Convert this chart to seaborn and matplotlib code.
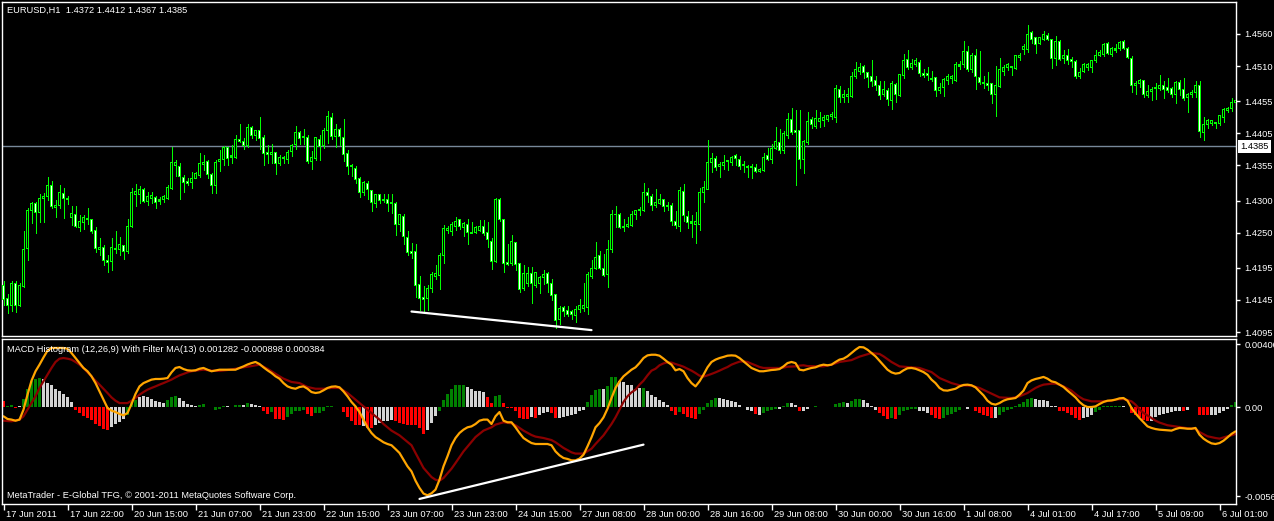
import numpy as np
import pandas as pd
import seaborn as sns
import matplotlib.pyplot as plt
import matplotlib.transforms as mtransforms

sns.set_style("dark", {"axes.facecolor": "black", "figure.facecolor": "black",
                       "axes.edgecolor": "white", "text.color": "white",
                       "xtick.color": "white", "ytick.color": "white"})
plt.rcParams["font.family"] = ["Liberation Sans", "DejaVu Sans"]

# -------------------------
# DATA (EURUSD H1, prices in pips: 14385 = 1.4385)
# -------------------------

opens = [
    14168, 14148, 14137, 14171, 14136, 14166, 14226, 14284, 14295, 14281,
    14303, 14306, 14324, 14289, 14292, 14311, 14303, 14274, 14279, 14258,
    14266, 14272, 14271, 14253, 14223, 14227, 14207, 14205, 14226, 14223,
    14230, 14220, 14260, 14309, 14309, 14317, 14299, 14303, 14305, 14299,
    14301, 14303, 14319, 14355, 14354, 14336, 14330, 14328, 14335, 14339,
    14356, 14361, 14340, 14323, 14361, 14364, 14383, 14368, 14368, 14396,
    14392, 14386, 14414, 14402, 14409, 14399, 14375, 14372, 14375, 14358,
    14365, 14364, 14376, 14387, 14407, 14398, 14398, 14361, 14366, 14396,
    14386, 14410, 14430, 14400, 14411, 14399, 14374, 14355, 14350, 14335,
    14313, 14327, 14316, 14296, 14310, 14302, 14301, 14297, 14296, 14263,
    14276, 14243, 14221, 14221, 14169, 14149, 14147, 14163, 14181, 14183,
    14215, 14254, 14252, 14259, 14270, 14258, 14263, 14250, 14250, 14254,
    14260, 14251, 14237, 14205, 14302, 14271, 14204, 14202, 14235, 14202,
    14163, 14171, 14187, 14168, 14171, 14180, 14187, 14171, 14153, 14114,
    14134, 14128, 14127, 14121, 14130, 14131, 14134, 14182, 14194, 14214,
    14194, 14184, 14223, 14279, 14279, 14258, 14260, 14261, 14278, 14284,
    14284, 14313, 14307, 14292, 14296, 14301, 14293, 14293, 14268, 14259,
    14315, 14276, 14267, 14262, 14263, 14313, 14318, 14360, 14366, 14353,
    14355, 14361, 14360, 14370, 14364, 14355, 14354, 14352, 14352, 14345,
    14347, 14370, 14364, 14382, 14391, 14378, 14402, 14427, 14410, 14409,
    14364, 14391, 14426, 14416, 14424, 14425, 14427, 14431, 14429, 14474,
    14461, 14462, 14463, 14494, 14502, 14510, 14500, 14493, 14487, 14479,
    14465, 14472, 14457, 14481, 14464, 14495, 14520, 14507, 14512, 14516,
    14499, 14498, 14491, 14492, 14472, 14477, 14488, 14490, 14488, 14510,
    14512, 14533, 14504, 14526, 14492, 14484, 14483, 14483, 14465, 14478,
    14502, 14507, 14510, 14506, 14523, 14536, 14536, 14562, 14554, 14545,
    14552, 14558, 14551, 14522, 14548, 14522, 14527, 14520, 14517, 14493,
    14501, 14508, 14508, 14518, 14527, 14528, 14545, 14528, 14535, 14537,
    14548, 14538, 14522, 14480, 14483, 14487, 14464, 14470, 14475, 14475,
    14479, 14477, 14475, 14466, 14485, 14473, 14461, 14465, 14468, 14480,
    14407, 14419, 14421, 14420, 14420, 14430, 14441, 14444, 14453]

highs = [
    14174, 14155, 14175, 14174, 14171, 14253, 14288, 14298, 14298, 14310,
    14312, 14337, 14331, 14301, 14324, 14319, 14307, 14292, 14292, 14278,
    14278, 14288, 14272, 14259, 14241, 14231, 14215, 14241, 14253, 14243,
    14231, 14272, 14320, 14326, 14323, 14319, 14314, 14314, 14307, 14306,
    14309, 14324, 14383, 14363, 14359, 14340, 14335, 14344, 14345, 14374,
    14371, 14363, 14343, 14363, 14379, 14386, 14384, 14387, 14402, 14420,
    14397, 14419, 14416, 14410, 14430, 14403, 14387, 14388, 14376, 14371,
    14369, 14379, 14389, 14416, 14409, 14411, 14403, 14377, 14399, 14402,
    14413, 14440, 14436, 14420, 14413, 14427, 14379, 14357, 14354, 14337,
    14331, 14331, 14317, 14310, 14311, 14310, 14310, 14311, 14298, 14279,
    14279, 14253, 14234, 14233, 14182, 14167, 14168, 14189, 14200, 14219,
    14262, 14260, 14267, 14274, 14272, 14267, 14271, 14266, 14260, 14270,
    14270, 14266, 14241, 14304, 14304, 14272, 14232, 14246, 14236, 14203,
    14200, 14197, 14196, 14189, 14183, 14192, 14189, 14177, 14154, 14136,
    14136, 14135, 14129, 14135, 14146, 14171, 14188, 14207, 14236, 14221,
    14216, 14238, 14286, 14292, 14280, 14272, 14274, 14284, 14286, 14290,
    14328, 14320, 14310, 14318, 14310, 14303, 14298, 14296, 14284, 14322,
    14326, 14284, 14278, 14283, 14319, 14331, 14395, 14374, 14369, 14361,
    14371, 14364, 14370, 14373, 14370, 14362, 14355, 14357, 14357, 14351,
    14375, 14382, 14388, 14415, 14411, 14409, 14436, 14444, 14441, 14441,
    14395, 14438, 14431, 14441, 14439, 14434, 14434, 14438, 14480, 14479,
    14473, 14475, 14501, 14516, 14514, 14512, 14501, 14519, 14494, 14486,
    14487, 14475, 14486, 14483, 14497, 14528, 14535, 14521, 14522, 14520,
    14505, 14509, 14502, 14493, 14483, 14492, 14498, 14496, 14516, 14518,
    14549, 14541, 14530, 14536, 14533, 14494, 14500, 14484, 14510, 14522,
    14512, 14514, 14510, 14527, 14531, 14544, 14574, 14564, 14556, 14556,
    14565, 14561, 14552, 14557, 14550, 14535, 14536, 14524, 14519, 14507,
    14515, 14515, 14519, 14535, 14535, 14546, 14547, 14540, 14544, 14549,
    14551, 14539, 14525, 14487, 14489, 14488, 14480, 14477, 14483, 14496,
    14487, 14491, 14477, 14486, 14488, 14491, 14468, 14472, 14486, 14486,
    14431, 14427, 14426, 14423, 14434, 14444, 14446, 14460, 14464]

lows = [
    14137, 14124, 14128, 14127, 14135, 14166, 14207, 14265, 14249, 14266,
    14267, 14301, 14288, 14275, 14288, 14273, 14295, 14262, 14259, 14253,
    14255, 14264, 14250, 14220, 14215, 14200, 14188, 14191, 14218, 14215,
    14209, 14218, 14259, 14291, 14297, 14298, 14293, 14296, 14288, 14295,
    14298, 14302, 14318, 14338, 14303, 14314, 14324, 14320, 14335, 14337,
    14348, 14335, 14312, 14312, 14347, 14356, 14356, 14358, 14366, 14392,
    14381, 14383, 14397, 14395, 14381, 14355, 14359, 14358, 14342, 14356,
    14359, 14358, 14369, 14381, 14389, 14389, 14359, 14350, 14363, 14363,
    14382, 14390, 14396, 14383, 14387, 14362, 14342, 14339, 14328, 14306,
    14309, 14303, 14284, 14290, 14297, 14298, 14284, 14281, 14247, 14252,
    14232, 14215, 14210, 14150, 14129, 14127, 14130, 14158, 14177, 14162,
    14202, 14249, 14246, 14254, 14255, 14245, 14232, 14249, 14249, 14253,
    14246, 14227, 14194, 14205, 14269, 14188, 14200, 14199, 14192, 14158,
    14161, 14167, 14140, 14165, 14156, 14170, 14158, 14145, 14101, 14108,
    14120, 14120, 14116, 14111, 14127, 14128, 14123, 14180, 14193, 14193,
    14182, 14166, 14220, 14259, 14257, 14252, 14259, 14260, 14271, 14278,
    14284, 14298, 14285, 14290, 14295, 14284, 14286, 14262, 14258, 14252,
    14269, 14258, 14244, 14234, 14254, 14298, 14318, 14345, 14348, 14337,
    14350, 14348, 14355, 14356, 14350, 14345, 14337, 14336, 14344, 14344,
    14347, 14363, 14358, 14381, 14375, 14375, 14397, 14404, 14324, 14351,
    14343, 14389, 14413, 14413, 14415, 14416, 14424, 14427, 14423, 14454,
    14454, 14454, 14461, 14492, 14498, 14492, 14478, 14479, 14472, 14459,
    14463, 14449, 14443, 14454, 14464, 14491, 14505, 14506, 14510, 14494,
    14493, 14488, 14487, 14463, 14468, 14463, 14482, 14483, 14486, 14506,
    14509, 14502, 14500, 14474, 14482, 14475, 14473, 14453, 14432, 14477,
    14496, 14504, 14496, 14505, 14520, 14529, 14532, 14546, 14530, 14544,
    14551, 14551, 14507, 14511, 14519, 14514, 14513, 14509, 14492, 14492,
    14500, 14504, 14500, 14517, 14525, 14526, 14528, 14525, 14532, 14535,
    14537, 14522, 14470, 14467, 14477, 14462, 14462, 14457, 14458, 14473,
    14460, 14470, 14462, 14453, 14465, 14457, 14439, 14462, 14462, 14400,
    14394, 14413, 14418, 14413, 14418, 14422, 14439, 14440, 14452]

closes = [
    14145, 14137, 14171, 14137, 14167, 14224, 14285, 14296, 14281, 14304,
    14306, 14323, 14291, 14293, 14313, 14303, 14302, 14280, 14260, 14267,
    14274, 14270, 14252, 14226, 14227, 14206, 14204, 14227, 14224, 14232,
    14220, 14260, 14313, 14315, 14318, 14299, 14307, 14308, 14297, 14301,
    14306, 14321, 14360, 14359, 14337, 14328, 14327, 14335, 14342, 14358,
    14360, 14341, 14323, 14360, 14364, 14383, 14366, 14370, 14396, 14393,
    14386, 14414, 14401, 14409, 14397, 14373, 14372, 14375, 14358, 14368,
    14368, 14375, 14386, 14407, 14397, 14400, 14361, 14368, 14398, 14384,
    14410, 14431, 14400, 14411, 14400, 14372, 14354, 14353, 14333, 14313,
    14329, 14318, 14297, 14309, 14300, 14300, 14296, 14295, 14263, 14278,
    14244, 14219, 14218, 14167, 14148, 14146, 14163, 14185, 14187, 14215,
    14257, 14257, 14262, 14268, 14259, 14264, 14250, 14249, 14258, 14260,
    14249, 14239, 14205, 14301, 14271, 14202, 14201, 14237, 14200, 14162,
    14186, 14187, 14171, 14188, 14180, 14185, 14170, 14152, 14113, 14132,
    14127, 14123, 14123, 14130, 14136, 14137, 14184, 14194, 14212, 14194,
    14183, 14224, 14279, 14278, 14258, 14260, 14263, 14278, 14285, 14286,
    14313, 14308, 14292, 14297, 14301, 14291, 14291, 14267, 14261, 14316,
    14277, 14266, 14265, 14267, 14313, 14321, 14360, 14365, 14351, 14357,
    14360, 14362, 14368, 14365, 14353, 14356, 14352, 14354, 14345, 14349,
    14368, 14364, 14382, 14392, 14378, 14404, 14426, 14407, 14407, 14364,
    14393, 14424, 14419, 14428, 14428, 14429, 14433, 14434, 14475, 14461,
    14466, 14466, 14493, 14505, 14508, 14500, 14492, 14486, 14479, 14464,
    14473, 14458, 14483, 14465, 14497, 14519, 14507, 14514, 14518, 14498,
    14496, 14495, 14489, 14472, 14477, 14489, 14494, 14494, 14512, 14512,
    14533, 14504, 14526, 14493, 14484, 14482, 14480, 14465, 14480, 14505,
    14507, 14512, 14507, 14526, 14526, 14540, 14559, 14552, 14544, 14554,
    14559, 14552, 14522, 14549, 14520, 14526, 14518, 14517, 14493, 14500,
    14513, 14513, 14518, 14526, 14531, 14544, 14530, 14537, 14537, 14547,
    14538, 14524, 14479, 14483, 14487, 14465, 14471, 14474, 14477, 14480,
    14474, 14472, 14465, 14484, 14473, 14459, 14466, 14468, 14480, 14408,
    14419, 14425, 14425, 14422, 14433, 14442, 14444, 14453, 14457]

# MACD histogram, in units of 0.0001
hist = [
    4.0, 0.4, 1.5, -0.4, 0.4, 5.1, 11.6, 16.3, 18.0, 18.4,
    18.0, 15.2, 13.8, 11.6, 9.9, 8.3, 6.1, 3.0, -1.7, -3.8,
    -5.5, -7.0, -8.5, -10.8, -12.3, -13.8, -14.4, -12.9, -10.8, -9.5,
    -7.6, -5.3, 3.2, 4.7, 6.1, 6.8, 6.1, 5.1, 4.0, 3.2,
    2.5, 4.7, 6.4, 6.8, 5.7, 3.6, 1.9, 1.1, 0.6, 1.5,
    1.9, 0.2, 0.1, -1.7, -1.1, 0.4, 0.4, 0.1, 1.5, 1.5,
    1.5, 2.5, 1.9, 1.5, 0.4, -2.3, -4.4, -3.2, -7.6, -7.6,
    -8.0, -6.4, -4.4, -2.8, -2.3, -1.7, -4.4, -5.5, -3.8, -3.8,
    -2.3, 0.4, 0.8, 0.1, -0.1, -3.2, -6.6, -9.1, -11.6, -11.6,
    -12.3, -13.3, -13.3, -11.6, -10.2, -9.1, -9.1, -8.0, -9.1, -10.2,
    -10.8, -11.6, -11.6, -11.6, -13.3, -17.1, -14.4, -10.2, -5.9, -2.3,
    4.7, 8.3, 11.4, 13.8, 14.2, 14.2, 12.5, 11.4, 10.4, 10.4,
    9.5, 6.4, 2.5, 6.8, 7.4, 2.5, -0.6, -0.6, -2.3, -7.0,
    -7.4, -7.4, -6.6, -7.0, -5.3, -3.8, -3.2, -3.8, -7.0, -7.0,
    -6.6, -5.9, -5.3, -4.4, -2.8, -1.7, 3.2, 7.4, 11.0, 11.4,
    11.4, 13.1, 18.8, 18.8, 16.7, 15.9, 14.2, 14.2, 11.6, 12.1,
    12.1, 9.9, 7.8, 6.1, 4.7, 3.2, 1.5, -2.8, -5.3, -3.2,
    -4.4, -6.4, -7.0, -7.6, -4.4, -1.7, 2.5, 4.7, 5.7, 5.7,
    5.1, 4.7, 4.0, 3.0, 1.5, 0.1, -1.7, -2.8, -4.4, -4.9,
    -3.8, -2.8, -1.7, -1.1, -1.1, 0.4, 2.5, 2.5, 1.5, -2.8,
    -2.8, -1.1, 0.1, 0.4, 0.1, -0.1, 0.1, -0.1, 2.1, 2.5,
    3.2, 2.5, 4.0, 5.1, 5.3, 4.7, 2.5, 0.8, -1.7, -3.8,
    -5.9, -7.6, -7.0, -7.6, -5.3, -2.8, -2.1, -1.1, -1.1, -2.3,
    -2.8, -3.8, -5.3, -7.0, -7.6, -7.0, -5.3, -4.4, -3.2, -2.1,
    0.1, -1.3, -0.1, -2.3, -3.8, -4.9, -5.9, -7.0, -7.0, -4.9,
    -3.2, -1.7, -1.1, 0.8, 2.1, 3.0, 5.1, 5.7, 5.1, 4.7,
    4.2, 3.6, 0.4, 0.4, -2.3, -2.8, -3.8, -5.3, -7.0, -8.0,
    -7.0, -6.6, -5.3, -3.2, -1.7, 0.4, 0.4, 0.4, 0.4, 0.8,
    0.4, 0.1, -3.8, -4.9, -6.6, -8.0, -8.7, -8.7, -6.6, -5.3,
    -4.4, -3.8, -3.2, -2.8, -2.3, -2.3, -1.7, -0.1, 0.1, -4.9,
    -5.3, -5.3, -5.3, -4.9, -3.8, -2.3, -1.1, 1.5, 3.0]

# bar colour per hour: g = green, r = red, w = grey
hist_tone = ("rggrwggggg" "wwwwwwwwrr" "rrrrrrrwww" "wgggwwwwww" "wgggwwwwwg"
             "gwwgggwwgg" "wgwwwrrgrr" "rgggggrrgg" "gggwwrrrrr" "wrrwwwwwrr"
             "rrrrrrwwwg" "ggggggwwww" "wrrggrrrrr" "rrwrwwwrrw" "wwwwwwgggg"
             "wgggwwwwww" "gwwwwwwrrg" "rrrrgggggw" "wwwwwwwwrw" "ggggwggwwr"
             "wwwgwwwwgg" "gwgggwwwwr" "rrgrgggggw" "wwrrrggggg" "wwgrrrrrwg"
             "ggggggggww" "wwwwrrrrrr" "wwwggggggg" "wwrrrrrwww" "wwwwwrwwgr"
             "rrwwwwwgg")

# orange line (MACD), every hour, units of 0.0001
macd_line = [
    -5.9, -7.6, -8.0, -8.7, -8.0, -1.7, 7.8, 16.7, 22.7, 26.9,
    31.5, 35.8, 37.5, 37.5, 37.5, 37.5, 37.0, 34.3, 31.1, 27.9,
    24.8, 22.7, 19.5, 15.2, 9.9, 4.7, -0.6, -2.3, -3.2, -4.4,
    -5.3, -3.8, 1.9, 8.3, 13.1, 15.2, 16.3, 17.4, 17.8, 17.8,
    18.0, 18.4, 22.0, 24.8, 25.4, 24.1, 23.3, 23.1, 23.3, 24.3,
    24.8, 23.7, 22.7, 23.2, 23.7, 23.7, 23.7, 23.7, 23.7, 24.8,
    25.8, 27.0, 27.9, 28.6, 27.3, 25.2, 23.3, 21.6, 19.5, 18.0,
    15.2, 13.1, 12.1, 11.6, 12.7, 13.1, 11.6, 9.5, 8.9, 9.3,
    10.6, 12.1, 12.9, 13.1, 12.5, 9.9, 6.8, 3.2, 0.4, -3.2,
    -8.0, -12.9, -16.5, -19.1, -20.7, -22.4, -23.5, -24.3, -26.7, -29.2,
    -33.4, -37.7, -40.9, -46.8, -51.4, -55.0, -56.1, -54.8, -52.5, -46.2,
    -37.7, -31.3, -24.3, -19.7, -16.5, -14.4, -12.9, -12.3, -10.8, -8.7,
    -8.0, -8.0, -10.8, -5.9, -3.2, -8.7, -9.7, -9.7, -12.9, -16.5,
    -19.7, -21.4, -22.9, -23.5, -23.5, -23.5, -23.5, -24.3, -28.2, -30.7,
    -32.4, -33.0, -33.9, -33.9, -32.8, -30.3, -25.0, -19.3, -12.9, -10.2,
    -6.6, -1.1, 5.7, 12.1, 16.3, 19.5, 21.6, 23.7, 25.2, 27.9,
    31.1, 32.8, 33.2, 33.2, 32.6, 30.7, 28.6, 26.9, 23.3, 24.1,
    22.7, 18.4, 15.2, 13.1, 16.3, 20.5, 25.2, 28.6, 30.1, 31.1,
    31.8, 32.6, 32.8, 32.6, 31.1, 29.0, 26.9, 24.8, 23.7, 22.7,
    22.7, 23.1, 23.5, 23.7, 24.1, 25.8, 27.9, 28.6, 27.9, 23.7,
    23.3, 24.1, 24.8, 25.2, 26.3, 26.9, 26.5, 26.9, 28.6, 30.1,
    30.7, 32.2, 34.3, 36.4, 38.1, 37.9, 36.4, 34.3, 32.2, 29.4,
    26.5, 23.7, 22.0, 21.2, 21.6, 23.3, 24.6, 24.8, 24.3, 23.3,
    22.2, 20.5, 17.4, 15.2, 12.1, 10.6, 10.4, 11.0, 11.6, 13.1,
    14.0, 14.2, 13.8, 12.5, 9.9, 7.4, 4.0, 2.1, 1.5, 2.5,
    4.0, 4.9, 5.3, 5.7, 7.8, 10.4, 15.2, 16.9, 17.8, 18.4,
    19.1, 18.0, 16.3, 15.7, 14.2, 12.7, 10.4, 8.3, 6.1, 3.2,
    1.1, 0.0, 0.0, 0.4, 1.9, 3.2, 4.0, 4.2, 4.7, 5.5,
    5.7, 4.0, -0.6, -4.0, -7.0, -9.7, -12.3, -13.3, -14.0, -14.4,
    -14.6, -14.8, -15.0, -14.0, -13.3, -13.5, -13.8, -13.8, -13.3, -17.6,
    -20.1, -21.8, -23.1, -23.5, -22.9, -21.4, -19.3, -17.1, -15.5]

# dark red line (filter), read at these bar numbers, units of 0.0001
signal_bar = [
    0, 2, 4, 5, 6, 7, 8, 9, 10, 11, 12, 13, 14, 15, 16, 17, 18, 19, 20, 21,
    22, 23, 24, 25, 26, 27, 28, 29, 31, 32, 33, 34, 35, 36, 37, 38, 39, 40, 41, 42,
    43, 44, 45, 46, 47, 48, 50, 52, 54, 56, 58, 60, 62, 64, 66, 67, 69, 70, 72, 74,
    76, 78, 80, 82, 84, 86, 87, 89, 90, 92, 94, 95, 97, 99, 100, 102, 103, 105, 107, 108,
    109, 110, 112, 113, 115, 117, 118, 120, 122, 123, 125, 127, 128, 130, 132, 133, 135, 137, 138, 140,
    142, 143, 145, 147, 148, 150, 152, 153, 154, 155, 156, 157, 158, 159, 160, 161, 162, 163, 164, 165,
    166, 167, 168, 169, 170, 171, 172, 173, 174, 175, 176, 177, 178, 179, 180, 181, 182, 183, 184, 185,
    186, 187, 188, 189, 190, 194, 195, 196, 198, 199, 200, 201, 205, 206, 207, 209, 212, 214, 217, 219,
    220, 222, 224, 227, 229, 232, 234, 237, 239, 242, 244, 247, 249, 252, 254, 256, 258, 259, 260, 262,
    263, 264, 265, 267, 268, 269, 270, 272, 275, 277, 278, 280, 282, 283, 284, 285, 287, 288, 289, 291,
    293, 294, 296, 298, 299, 301, 303, 304, 306, 307, 308]
signal_line = [
    -8.7, -9.1, -8.0, -5.9, -1.7, 2.5, 6.8, 12.1, 16.3, 20.5, 24.8, 28.6, 30.7, 31.1, 30.7, 30.1, 28.6, 26.9, 24.8, 22.0,
    19.5, 16.7, 14.2, 11.6, 8.9, 6.1, 4.0, 2.5, 2.5, 4.0, 5.7, 7.8, 9.5, 11.0, 12.1, 13.1, 14.2, 15.2, 16.3, 17.4,
    18.8, 20.1, 21.0, 22.0, 22.7, 23.1, 23.7, 23.1, 22.9, 23.5, 24.3, 25.2, 26.0, 26.9, 24.3, 22.7, 19.5, 18.0, 15.9, 15.2,
    12.7, 11.6, 11.6, 12.1, 12.1, 8.9, 6.8, 2.5, 0.4, -3.8, -8.0, -10.8, -15.0, -18.0, -20.1, -24.3, -29.2, -38.7, -44.5, -46.2,
    -46.8, -45.1, -39.2, -35.6, -28.2, -22.2, -19.1, -15.0, -12.9, -11.2, -9.7, -10.4, -11.6, -15.0, -17.8, -18.8, -19.7, -21.0, -22.4, -26.0,
    -28.8, -29.6, -29.6, -26.5, -23.5, -18.0, -10.8, -6.6, -1.7, 3.2, 6.8, 9.3, 11.0, 14.2, 16.7, 20.1, 23.1, 24.3, 26.5, 27.7,
    28.4, 28.2, 27.3, 26.5, 25.6, 24.3, 23.1, 21.6, 19.9, 19.3, 20.1, 21.0, 22.0, 23.1, 24.3, 25.4, 26.9, 27.9, 28.8, 29.0,
    28.6, 27.5, 26.5, 25.4, 24.8, 24.8, 25.0, 25.6, 25.8, 26.3, 26.5, 26.0, 25.8, 26.3, 26.9, 28.6, 29.8, 32.0, 34.3, 33.7,
    32.2, 28.6, 25.8, 25.2, 24.8, 22.2, 18.4, 15.2, 13.8, 13.5, 12.1, 8.5, 6.1, 5.7, 6.8, 8.9, 12.1, 13.3, 14.2, 14.8,
    14.8, 14.2, 13.1, 10.4, 8.3, 6.4, 4.9, 3.6, 3.6, 4.0, 4.7, 5.1, 3.6, 1.5, -1.5, -3.8, -7.0, -8.7, -9.9, -11.6,
    -12.3, -12.7, -13.5, -13.8, -15.9, -18.6, -19.7, -20.1, -18.6, -18.0, -17.1]

# hand drawn trend lines
price_trend_bar = [102, 147]
price_trend = [1.4127, 1.4098]
macd_trend_bar = [104, 160]
macd_trend = [-0.00584, -0.00239]

bid_price = 1.4385
price_ticks = [1.4560, 1.4510, 1.4455, 1.4405, 1.4355, 1.4300, 1.4250, 1.4195, 1.4145, 1.4095]
macd_ticks = [0.004002, 0.0, -0.00567]
macd_tick_labels = ["0.004002", "0.00", "-0.00567"]

date_bar = [0, 16, 32, 48, 64, 80, 96, 112, 128, 144, 160, 176, 192, 208, 224, 240, 256, 272, 288, 304]
date_labels = ["17 Jun 2011", "17 Jun 22:00", "20 Jun 15:00", "21 Jun 07:00", "21 Jun 23:00",
               "22 Jun 15:00", "23 Jun 07:00", "23 Jun 23:00", "24 Jun 15:00", "27 Jun 08:00",
               "28 Jun 00:00", "28 Jun 16:00", "29 Jun 08:00", "30 Jun 00:00", "30 Jun 16:00",
               "1 Jul 08:00", "4 Jul 01:00", "4 Jul 17:00", "5 Jul 09:00", "6 Jul 01:00"]

# -------------------------
# FIGURE
# -------------------------

lime = "#00ff00"
tone_colors = {"g": "#008000", "r": "#ff0000", "w": "#d3d3d3"}
fs = 6.7
price_lim = (1.40888, 1.46099)
x_lim = (-0.375, 308.125)   # 4 px per hour, bars centred on a pixel

fig = plt.figure(figsize=(12.74, 5.21), dpi=100)
ax1 = fig.add_axes([2 / 1274, 185 / 521, 1234 / 1274, 334 / 521])
ax2 = fig.add_axes([2 / 1274, 17.5 / 521, 1234 / 1274, 164.5 / 521])

idx = np.arange(len(closes))
o = np.array(opens) / 1e4
h = np.array(highs) / 1e4
l = np.array(lows) / 1e4
c = np.array(closes) / 1e4

# -------------------------
# PRICE PANEL
# -------------------------

px = (price_lim[1] - price_lim[0]) / 334   # one pixel in price units
lo = np.minimum(o, c)
size = np.abs(c - o)

ax1.axhline(bid_price, color="#778899", lw=1, zorder=1)
ax1.vlines(idx, l, h, color=lime, lw=0.72, antialiased=False, zorder=2)
# outer lime body, then 1 px inner fill (black = up, white = down)
ax1.bar(idx, size + px, bottom=lo - px / 2, width=0.75, color=lime,
        linewidth=0, antialiased=False, zorder=3)
inner = size > 1.5 * px
ax1.bar(idx[inner], size[inner] - px, bottom=lo[inner] + px / 2, width=0.25,
        color=np.where(c >= o, "black", "white")[inner], linewidth=0,
        antialiased=False, zorder=4)
ax1.plot(price_trend_bar, price_trend, color="white", lw=1.6, zorder=5)

ax1.set_xlim(*x_lim)
ax1.set_ylim(*price_lim)
ax1.yaxis.tick_right()
ax1.set_yticks(price_ticks)
ax1.set_yticklabels([f"{p:.4f}" for p in price_ticks])
ax1.tick_params(axis="y", right=True, length=3, width=1, pad=3, colors="white", labelsize=fs)
ax1.tick_params(axis="x", bottom=False, labelbottom=False)

trans = mtransforms.blended_transform_factory(ax1.transAxes, ax1.transData)
ax1.text(1.0035, bid_price, f"{bid_price:.4f}", transform=trans, ha="left", va="center",
         color="black", fontsize=fs, clip_on=False,
         bbox=dict(boxstyle="square,pad=0.2", facecolor="white", edgecolor="none"))
ax1.text(0.004, 0.99, "EURUSD,H1  1.4372 1.4412 1.4367 1.4385", transform=ax1.transAxes,
         ha="left", va="top", color="white", fontsize=fs)

# -------------------------
# MACD PANEL
# -------------------------

hist_df = pd.DataFrame({"bar": idx, "value": np.array(hist) / 1e4, "tone": list(hist_tone)})
sns.barplot(data=hist_df, x="bar", y="value", hue="tone", palette=tone_colors,
            native_scale=True, dodge=False, width=0.75, errorbar=None, legend=False,
            saturation=1, linewidth=0, ax=ax2)
sns.lineplot(x=signal_bar, y=np.array(signal_line) / 1e4, color="#8b0000", linewidth=1.6, ax=ax2)
sns.lineplot(x=idx, y=np.array(macd_line) / 1e4, color="#ffa500", linewidth=1.6, ax=ax2)
ax2.plot(macd_trend_bar, macd_trend, color="white", lw=1.6, zorder=5)

ax2.set_xlim(*x_lim)
ax2.set_ylim(-0.00613, 0.00432)
ax2.yaxis.tick_right()
ax2.set_yticks(macd_ticks)
ax2.set_yticklabels(macd_tick_labels)
ax2.set_xticks(date_bar)
ax2.set_xticklabels(date_labels, ha="left")
ax2.tick_params(axis="y", right=True, length=3, width=1, pad=3, colors="white", labelsize=fs)
ax2.tick_params(axis="x", bottom=True, length=4, width=1, pad=1, colors="white", labelsize=fs)
ax2.set_xlabel("")
ax2.set_ylabel("")
shift = mtransforms.ScaledTranslation(2 / 100, 0, fig.dpi_scale_trans)
for lab in ax2.get_xticklabels():
    lab.set_transform(lab.get_transform() + shift)

ax2.text(0.004, 0.965, "MACD Histogram (12,26,9) With Filter MA(13) 0.001282 -0.000898 0.000384",
         transform=ax2.transAxes, ha="left", va="top", color="white", fontsize=fs)
ax2.text(0.004, 0.02, "MetaTrader - E-Global TFG, \u00a9 2001-2011 MetaQuotes Software Corp.",
         transform=ax2.transAxes, ha="left", va="bottom", color="white", fontsize=fs)

for ax in (ax1, ax2):
    ax.set_facecolor("black")
    ax.grid(False)
    for side in ax.spines.values():
        side.set_visible(True)
        side.set_color("white")
        side.set_linewidth(1)

fig.savefig("out.png", dpi=100, facecolor="black")
